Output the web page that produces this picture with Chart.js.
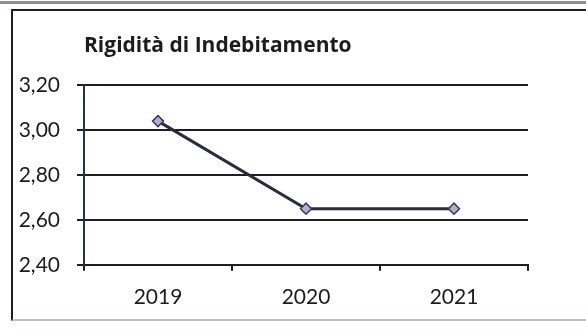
<!DOCTYPE html>
<html>
<head>
<meta charset="utf-8">
<script src="https://cdn.jsdelivr.net/npm/chart.js@4/dist/chart.umd.min.js"></script>
<style>
  html, body { margin: 0; padding: 0; background: #fff; }
  #wrap { position: relative; width: 586px; height: 335px; overflow: hidden; background: #fff; }
  #band { position: absolute; left: 0; top: 1px; width: 586px; height: 3px; background: #8a8f8f; }
  #frame { position: absolute; left: 11px; top: 9px; width: 600px; height: 308px;
           border-top: 2px solid #1e1e1e; border-left: 2px solid #1e1e1e; border-bottom: 2px solid #b9bfd0; }
  canvas { position: absolute; left: 0; top: 0; }
</style>
</head>
<body>
<div id="wrap">
  <div id="band"></div>
  <div id="frame"></div>
  <canvas id="c" width="586" height="335"></canvas>
</div>
<script>
// Indicator: rigidità di indebitamento, by year
const years = ['2019', '2020', '2021'];
const rigidita = [3.04, 2.65, 2.65];
const yTicks = [2.4, 2.6, 2.8, 3.0, 3.2];
const yTickLabels = ['2,40', '2,60', '2,80', '3,00', '3,20'];
const chartTitle = 'Rigidità di Indebitamento';

const labelFont = { family: 'Lato, "Open Sans", sans-serif', size: 21 };

new Chart(document.getElementById('c'), {
  type: 'line',
  data: {
    labels: years,
    datasets: [{
      data: rigidita,
      borderColor: '#2a2c40',
      borderWidth: 3,
      pointStyle: 'rectRot',
      pointRadius: 5.5,
      pointBackgroundColor: '#aab4d2',
      pointBorderColor: '#3a3d55',
      pointBorderWidth: 1.5,
      tension: 0
    }]
  },
  options: {
    responsive: false,
    animation: false,
    devicePixelRatio: 1,
    layout: { padding: { left: 0, right: 58, top: 0, bottom: 11 } },
    plugins: {
      legend: { display: false },
      tooltip: { enabled: false },
      title: {
        display: true,
        text: chartTitle,
        align: 'start',
        fullSize: false,
        color: '#1c1c1c',
        font: { family: '"Open Sans", Lato, sans-serif', size: 21, weight: 'bold' },
        padding: { top: 33, bottom: 27 }
      }
    },
    scales: {
      x: {
        offset: true,
        grid: {
          offset: true,
          drawOnChartArea: false,
          drawTicks: true,
          tickLength: 6,
          color: '#1e1e1e',
          lineWidth: 2
        },
        border: { display: true, color: '#1e1e1e', width: 2 },
        ticks: { color: '#1c1c1c', font: labelFont, padding: 14, maxRotation: 0 }
      },
      y: {
        min: 2.4,
        max: 3.2,
        afterFit: (scale) => { scale.width = 84; },
        afterBuildTicks: (scale) => { scale.ticks = yTicks.map(v => ({ value: v })); },
        grid: {
          color: '#1e1e1e',
          lineWidth: 2,
          tickLength: 7,
          drawTicks: true
        },
        border: { display: true, color: '#1b3450', width: 2 },
        ticks: {
          color: '#1c1c1c',
          font: labelFont,
          padding: 17,
          callback: (v, i) => yTickLabels[i]
        }
      }
    }
  }
});
</script>
</body>
</html>
